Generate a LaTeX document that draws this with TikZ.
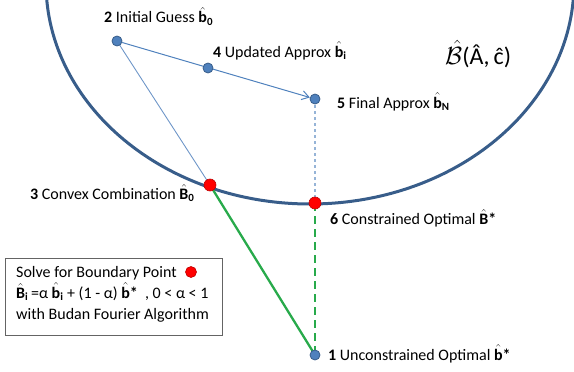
\documentclass[tikz,border=0pt]{standalone}
\usepackage{fontspec}
\setmainfont{Carlito}
\usetikzlibrary{arrows.meta,backgrounds}
\definecolor{ellblue}{RGB}{56,93,138}
\definecolor{dotblue}{RGB}{79,129,189}
\definecolor{dotedge}{RGB}{56,93,138}
\definecolor{thinblue}{RGB}{110,150,200}
\definecolor{dashblue}{RGB}{150,180,215}
\definecolor{grn}{RGB}{40,170,75}
\definecolor{boxgray}{RGB}{100,100,100}
\newcommand\lbfont{\fontsize{16}{19}\selectfont}
\newcommand\hb[2]{$\hat{\mbox{\bfseries #1}}_{\mbox{\bfseries\fontsize{11}{11}\selectfont #2}}$}
\newcommand\hs[1]{$\hat{\mbox{\bfseries #1}}$\textbf{*}}
\begin{document}
\begin{tikzpicture}[x=1pt,y=-1pt,
  bdot/.style={circle, fill=dotblue, draw=dotedge, line width=0.8pt, minimum size=10pt, inner sep=0pt},
  rdot/.style={circle, fill=red, draw=red!75!black, line width=0.6pt, minimum size=12pt, inner sep=0pt},
  lbl/.style={anchor=base west, inner sep=0pt, font=\lbfont, text=black},
  ellline/.style={draw=ellblue, line width=3pt},
  thinline/.style={draw=thinblue, line width=0.9pt},
  arrline/.style={draw=dotblue, line width=1pt, -{Straight Barb[length=7pt,width=9pt]}},
  bluedash/.style={draw=dashblue, line width=1.3pt, dash pattern=on 3pt off 3pt},
  grnline/.style={draw=grn, line width=2.3pt},
  grndash/.style={draw=grn, line width=2.3pt, dash pattern=on 8pt off 5pt},
  boxst/.style={draw=boxgray, line width=0.8pt, fill=white}
]
\useasboundingbox (0,0) rectangle (574,372);

\node[bdot] (p2) at (117,41) {};
\node[bdot] (p4) at (208,68) {};
\node[bdot] (p5) at (315,99) {};
\node[bdot] (p1) at (315,355) {};
\node[rdot] (p3) at (210,185) {};
\node[rdot] (p6) at (315,203) {};

\begin{pgfonlayer}{background}
\begin{scope}
\clip (0,0) rectangle (574,372);
\draw[ellline] (310,-17) ellipse [x radius=264, y radius=221];
\end{scope}
\draw[thinline] (p2.center) -- (p3.center);
\draw[arrline] (p2) -- (p5);
\draw[bluedash] (p5.center) -- (p6.center);
\draw[grnline] (p3.center) -- (p1.center);
\draw[grndash] (p6.center) -- (p1.center);
\end{pgfonlayer}

% labels
\node[lbl] (l2) at (104,23) {\textbf{2} Initial Guess \hb{b}{0}};
\node[lbl] (l4) at (213,57) {\textbf{4} Updated Approx \hb{b}{i}};
\node[lbl] (l5) at (337,108) {\textbf{5} Final Approx \hb{b}{N}};
\node[lbl] (l3) at (30,199) {\textbf{3} Convex Combination \hb{B}{0}};
\node[lbl] (l6) at (330,224) {\textbf{6} Constrained Optimal \hs{B}};
\node[lbl] (l1) at (328,360) {\textbf{1} Unconstrained Optimal \hs{b}};
\node[anchor=base west, inner sep=0pt, font=\fontsize{24}{26}\selectfont] (set) at (445,64)
  {$\hat{\mathcal{B}}$(Â,\,ĉ)};

% box
\node[boxst, anchor=north west, minimum width=217pt, minimum height=77pt, inner sep=0pt] (box) at (5,258) {};
\node[lbl] (b1) at (16,277) {Solve for Boundary Point};
\node[rdot, minimum size=11pt] (bdotr) at (191,272) {};
\node[lbl] (b2) at (16,298) {\hb{B}{i}\,=α \hb{b}{i} + (1 - α) \hs{b}\ \ , 0 < α < 1};
\node[lbl] (b3) at (16,319) {with Budan Fourier Algorithm};
\end{tikzpicture}
\end{document}
